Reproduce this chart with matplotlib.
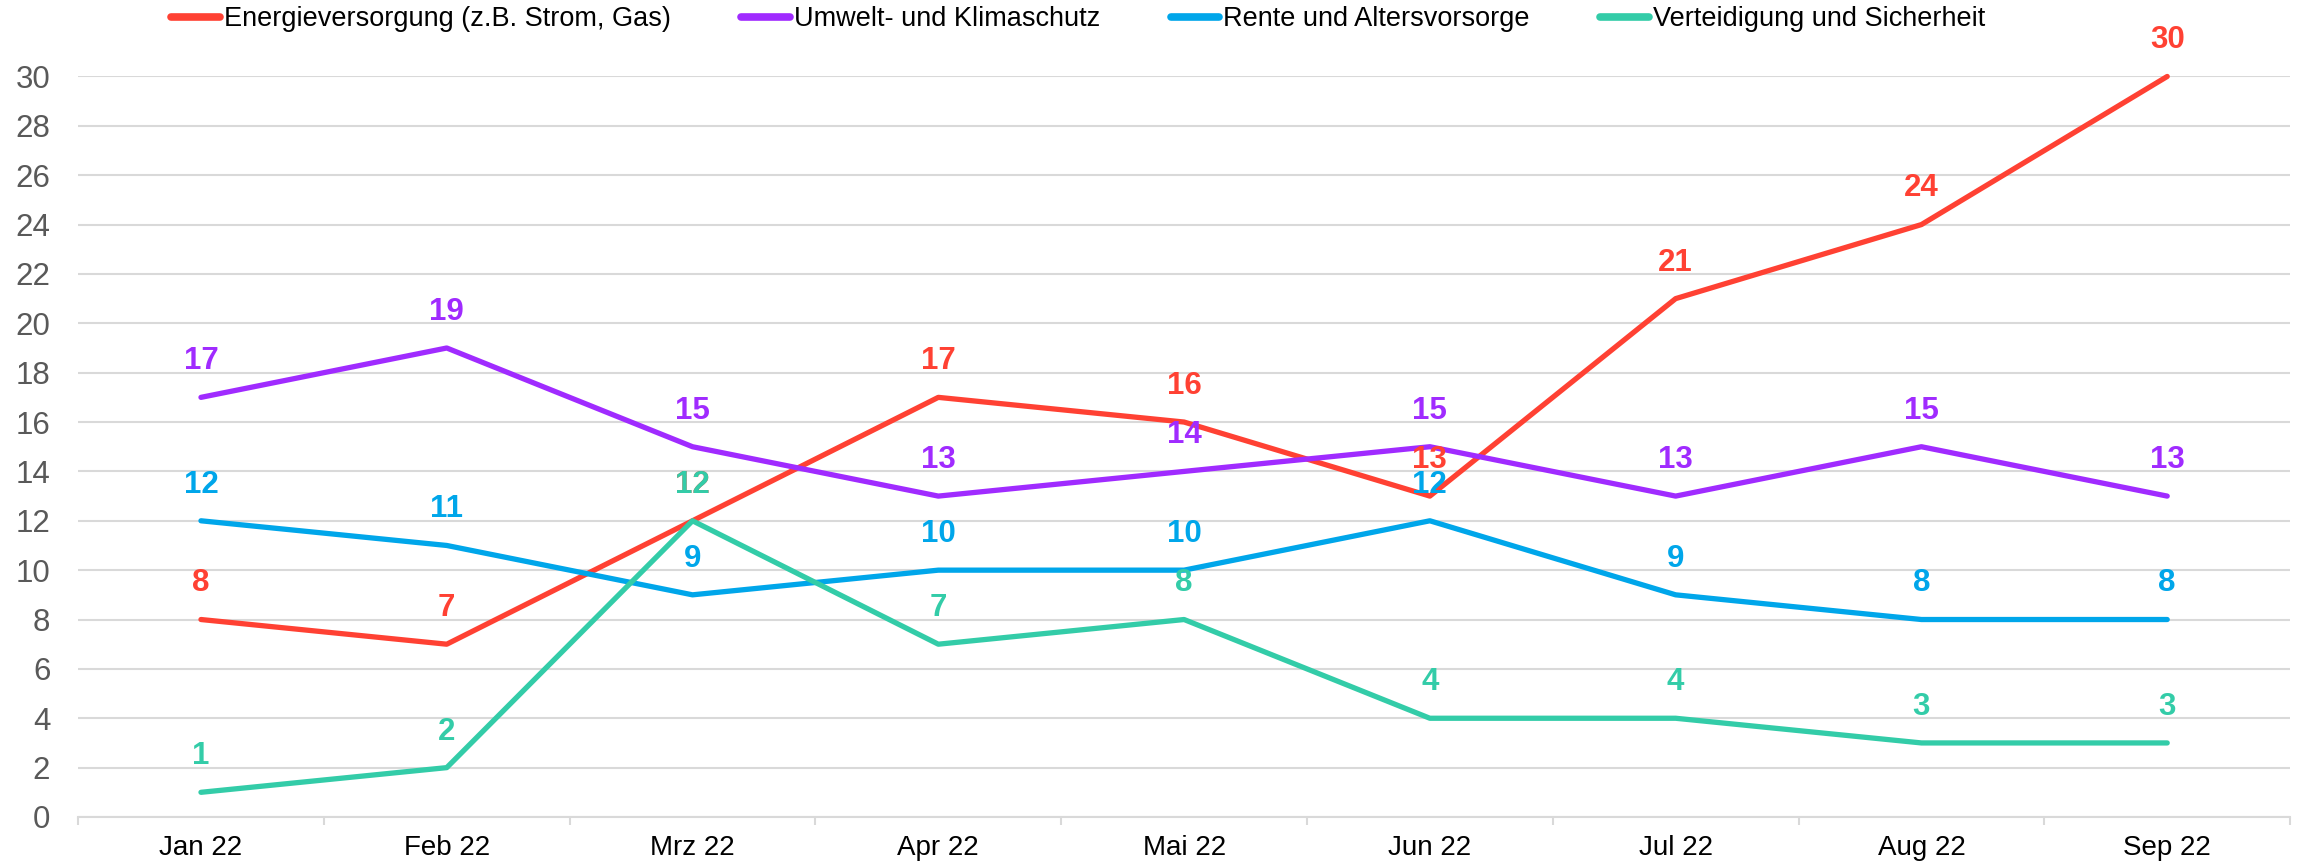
import numpy as np
import matplotlib
matplotlib.use('Agg')
import matplotlib.pyplot as plt

plt.rcParams['font.family'] = ['Liberation Sans', 'DejaVu Sans']

# Data
months = ['Jan 22', 'Feb 22', 'Mrz 22', 'Apr 22', 'Mai 22', 'Jun 22', 'Jul 22', 'Aug 22', 'Sep 22']
energie = [8, 7, 12, 17, 16, 13, 21, 24, 30]
umwelt = [17, 19, 15, 13, 14, 15, 13, 15, 13]
rente = [12, 11, 9, 10, 10, 12, 9, 8, 8]
verteidigung = [1, 2, 12, 7, 8, 4, 4, 3, 3]

series_names = ['Energieversorgung (z.B. Strom, Gas)', 'Umwelt- und Klimaschutz',
                'Rente und Altersvorsorge', 'Verteidigung und Sicherheit']
series_colors = ['#FF4133', '#A02BFF', '#00A6EA', '#33CCA8']

fig = plt.figure(figsize=(23.03, 8.65), dpi=100)
ax = fig.add_axes([0.0339, 0.0555, 0.9605, 0.8561])

x = np.arange(len(months))
lines = []
for vals, name, col in zip([energie, umwelt, rente, verteidigung], series_names, series_colors):
    ln, = ax.plot(x, vals, color=col, lw=3.8, solid_capstyle='round',
                  solid_joinstyle='round', label=name, clip_on=False, zorder=3)
    lines.append(ln)
    # value labels sit above each point
    for xi, v in zip(x, vals):
        ax.annotate(str(v), (xi, v), xytext=(0, 26), textcoords='offset points',
                    ha='center', va='center', fontsize=22.5, fontweight='bold',
                    color=col, zorder=5, annotation_clip=False)

ax.set_xlim(-0.5, len(months) - 0.5)
ax.set_ylim(0, 30)
ax.set_yticks(np.arange(0, 31, 2))
ax.set_xticks(x)
ax.set_xticklabels(months)
ax.set_xticks(np.arange(-0.5, len(months), 1.0), minor=True)

ax.grid(axis='y', color='#d9d9d9', lw=1.5, zorder=0)
ax.set_axisbelow(True)
for side in ['top', 'right', 'left']:
    ax.spines[side].set_visible(False)
ax.spines['bottom'].set_color('#d9d9d9')
ax.spines['bottom'].set_linewidth(1.5)

ax.tick_params(axis='y', length=0, labelsize=22.5, labelcolor='#595959', pad=20)
ax.tick_params(axis='x', which='major', length=0, labelsize=20, labelcolor='black', pad=13)
ax.tick_params(axis='x', which='minor', length=6, width=1.5, color='#d9d9d9')

leg = fig.legend(handles=lines, loc='center left', bbox_to_anchor=(171 / 2303, 1 - 19 / 865),
                 bbox_transform=fig.transFigure, ncol=4, frameon=False, fontsize=19.5,
                 handlelength=1.8, handletextpad=0.15, columnspacing=2.6,
                 borderpad=0, borderaxespad=0)
for h in leg.legend_handles:
    h.set_linewidth(5.5)

plt.savefig('out.png', dpi=100)
